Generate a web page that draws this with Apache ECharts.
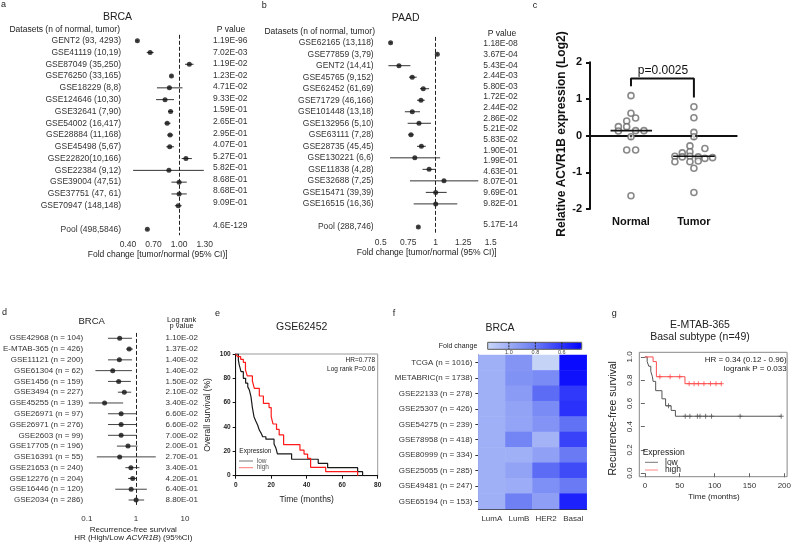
<!DOCTYPE html>
<html><head><meta charset="utf-8">
<script src="https://cdn.jsdelivr.net/npm/echarts@6/dist/echarts.min.js"></script>
<style>html,body{margin:0;padding:0;background:#fff}#c{width:794px;height:549px}</style>
</head><body><div id="c"></div>
<script>
// ---------- Panel a (BRCA, tumor/normal fold change) ----------
const namesA = ['GENT2 (93, 4293)','GSE41119 (10,19)','GSE87049 (35,250)','GSE76250 (33,165)','GSE18229 (8,8)','GSE124646 (10,30)','GSE32641 (7,90)','GSE54002 (16,417)','GSE28884 (11,168)','GSE45498 (5,67)','GSE22820(10,166)','GSE22384 (9,12)','GSE39004 (47,51)','GSE37751 (47, 61)','GSE70947 (148,148)','Pool (498,5846)'];
const fcA = [0.51,0.66,1.12,0.91,0.886,0.835,0.90,0.86,0.894,0.89,1.08,0.88,1.00,1.00,0.99,0.627];
const loA = [0.50,0.62,1.07,0.90,0.74,0.73,0.87,0.83,0.86,0.85,1.03,0.46,0.91,0.91,0.95,0.62];
const hiA = [0.52,0.70,1.17,0.92,1.04,0.94,0.93,0.90,0.93,0.94,1.15,1.29,1.09,1.09,1.03,0.635];
const pA = ['1.19E-96','7.02E-03','1.19E-02','1.23E-02','4.71E-02','9.33E-02','1.59E-01','2.65E-01','2.95E-01','4.07E-01','5.27E-01','5.82E-01','8.68E-01','8.68E-01','9.09E-01','4.6E-129'];
const ticksA = [0.4,0.7,1.0,1.3];

// ---------- Panel b (PAAD) ----------
const namesB = ['GSE62165 (13,118)','GSE77859 (3,79)','GENT2 (14,41)','GSE45765 (9,152)','GSE62452 (61,69)','GSE71729 (46,166)','GSE101448 (13,18)','GSE132956 (5,10)','GSE63111 (7,28)','GSE28735 (45,45)','GSE130221 (6,6)','GSE11838 (4,28)','GSE32688 (7,25)','GSE15471 (39,39)','GSE16515 (16,36)','Pool (288,746)'];
const fcB = [0.59,1.015,0.666,0.787,0.887,0.866,0.787,0.848,0.775,0.87,0.81,0.94,1.075,1.0,1.0,0.842];
const loB = [0.58,1.01,0.57,0.757,0.857,0.83,0.72,0.745,0.75,0.83,0.585,0.88,0.766,0.91,0.80,0.835];
const hiB = [0.60,1.02,0.77,0.827,0.94,0.90,0.857,0.957,0.80,0.91,1.04,0.997,1.387,1.10,1.196,0.85];
const pB = ['1.18E-08','3.67E-04','5.43E-04','2.44E-03','5.80E-03','1.72E-02','2.44E-02','2.86E-02','5.21E-02','5.83E-02','1.90E-01','1.99E-01','4.63E-01','8.07E-01','9.69E-01','9.82E-01','5.17E-14'];

// ---------- Panel c (ACVR1B expression) ----------
const normalX = [1.0,1.0,1.074,0.932,0.8,0.932,0.8,1.074,1.206,1.0,0.932,1.074,1.0];
const normalY = [1.09,0.61,0.48,0.40,0.245,0.245,0.127,0.136,0.136,-0.03,-0.39,-0.39,-1.64];
const tumorX = [2.0,2.0,2.0,2.0,1.937,2.175,1.937,1.815,1.698,1.815,1.937,2.069,2.175,2.297,1.698,1.937,2.069,2.0,2.0];
const tumorY = [0.79,0.49,0.09,-0.03,-0.28,-0.35,-0.44,-0.47,-0.56,-0.58,-0.56,-0.58,-0.62,-0.60,-0.71,-0.71,-0.69,-0.89,-1.55];
const groupsC = ['Normal','Tumor'];
const bracketY = [1.35,1.56,1.04];

// ---------- Panel d (BRCA recurrence-free survival HR) ----------
const namesD = ['GSE42968 (n = 104)','E-MTAB-365 (n = 426)','GSE11121 (n = 200)','GSE61304 (n = 62)','GSE1456 (n = 159)','GSE3494 (n = 227)','GSE45255 (n = 139)','GSE26971 (n = 97)','GSE26971 (n = 276)','GSE2603 (n = 99)','GSE17705 (n = 196)','GSE16391 (n = 55)','GSE21653 (n = 240)','GSE12276 (n = 204)','GSE16446 (n = 120)','GSE2034 (n = 286)'];
const hrD = [0.467,0.73,0.46,0.337,0.446,0.58,0.23,0.50,0.50,0.50,0.69,0.467,0.79,0.86,0.80,1.01];
const loD = [0.27,0.63,0.27,0.15,0.27,0.43,0.11,0.27,0.27,0.27,0.41,0.16,0.61,0.69,0.38,0.71];
const hiD = [0.83,0.87,0.83,0.83,0.79,0.80,0.55,1.01,1.01,1.01,1.08,2.54,1.18,1.05,1.67,1.47];
const pD = ['1.10E-02','1.37E-02','1.40E-02','1.40E-02','1.50E-02','2.10E-02','3.40E-02','6.60E-02','6.60E-02','7.00E-02','2.00E-01','2.70E-01','3.40E-01','4.20E-01','6.40E-01','8.80E-01'];
const minorD = [0.2,0.3,0.4,0.5,0.6,0.7,0.8,0.9,2,3,4,5,6,7,8,9];

// ---------- Panel e (GSE62452 KM) ----------
const timeLowE = [0,1.5,2,3,4.3,5.6,6.8,7.7,8.6,9.4,10.3,11.3,12.4,13.3,14.3,15.2,17,21.6,22.7,23.5,31.5,46.5,51.8,68.7,71.5];
const survLowE = [100,95,91,85.5,80,76,73,70.4,65,56,48.5,45,41.5,37.5,35,32,30,26,22.5,18,13.5,10.2,6.6,3.3,0];
const timeHighE = [0,1.1,2.8,4.3,5.5,6.5,9.4,10.5,13.3,15.6,18.8,20,21,23,24.5,27,36.2,38.5,40.5,42.2,50.7,68.7];
const survHighE = [100,97.8,95.6,93.2,87,82,77.8,71.8,65.5,59.5,56,48.5,42.5,38,33.5,25.5,21,17.8,14.3,6.9,3.3,0];

// ---------- Panel f (BRCA subtype heatmap) ----------
const namesF = ['TCGA (n = 1016)','METABRIC(n = 1738)','GSE22133 (n = 278)','GSE25307 (n = 426)','GSE54275 (n = 239)','GSE78958 (n = 418)','GSE80999 (n = 334)','GSE25055 (n = 285)','GSE49481 (n = 247)','GSE65194 (n = 153)'];
const subtypesF = ['LumA','LumB','HER2','Basal'];
const lumA = [1.01,1.01,1.01,1.01,1.01,1.01,1.01,1.01,1.01,1.01];
const lumB = [0.90,0.89,0.926,0.956,0.96,0.839,1.01,0.955,0.994,0.82];
const her2 = [1.15,0.865,0.76,0.865,0.896,1.02,0.948,0.76,0.88,0.94];
const basal = [0.48,0.50,0.61,0.59,0.775,0.64,0.80,0.664,0.80,0.547];
const cbTicks = [1.0,0.8,0.6];

// ---------- Panel g (E-MTAB-365 basal KM) ----------
const timeLowG = [0,3.3,5.6,8.5,10.8,11.8,15.5,24.5,29.7,37.7,43.8,195.5];
const survLowG = [1,0.96,0.92,0.875,0.83,0.79,0.71,0.64,0.58,0.54,0.49,0.49];
const timeHighG = [0,11.8,16.5,57.5,110];
const survHighG = [1,0.96,0.83,0.77,0.77];
const censorLowG = [33.9,57.9,64.5,75.3,79.1,87.1,95.6,136.6,195.5];
const censorHighG = [21.5,36.2,50,63.5,70.6,76.7,84.7,94.1,102,109.6];

// ================= build =================
const F = '"Liberation Sans", Arial, Helvetica, sans-serif';
const chart = echarts.init(document.getElementById('c'), null, {renderer:'canvas'});

function withGap(arr){ return arr.slice(0,-1).concat([''], arr.slice(-1)); }
function gapIdx(i,n){ return i < n-1 ? i : i+1; }
function zip(a,b){ return a.map((v,i)=>[v,b[i]]); }
function survAt(times, surv, t){ let s = surv[0]; for (let i=0;i<times.length;i++){ if (times[i] <= t) s = surv[i]; } return s; }
function median(a){ const s=a.slice().sort((x,y)=>x-y); const n=s.length; return n%2? s[(n-1)/2] : (s[n/2-1]+s[n/2])/2; }

function T(x,y,text,o){ o=o||{}; return {type:'text', x:x, y:y, rotation:o.rot||0, silent:true, z:100,
  style:{text:text, fontSize:o.fs||8.5, fontFamily:F, fontWeight:o.fw||'normal', fontStyle:o.fst||'normal',
  fill:o.c||'#222', align:o.al||'left', verticalAlign:o.va||'middle', rich:o.rich}}; }
function L(x1,y1,x2,y2,c,w,dash){ return {type:'line', silent:true, z:100, shape:{x1:x1,y1:y1,x2:x2,y2:y2}, style:{stroke:c, lineWidth:w||1, lineDash:dash||null}}; }

function ciSeries(xi, yi, lo, hi, gapped, color){
  const n = lo.length;
  return {type:'custom', xAxisIndex:xi, yAxisIndex:yi, silent:true,
    data: lo.map((v,i)=>[v, hi[i], gapped? gapIdx(i,n) : i]),
    encode:{x:[0,1], y:2},
    renderItem:function(params, api){
      const a = api.coord([api.value(0), api.value(2)]);
      const b = api.coord([api.value(1), api.value(2)]);
      return {type:'line', shape:{x1:a[0],y1:a[1],x2:b[0],y2:b[1]}, style:{stroke:color, lineWidth:1}};
    }};
}
function ptSeries(xi, yi, est, gapped, size){
  const n = est.length;
  return {type:'scatter', xAxisIndex:xi, yAxisIndex:yi, silent:true, symbolSize:size||5,
    itemStyle:{color:'#111'}, data: est.map((v,i)=>[v, gapped? gapIdx(i,n) : i]),
    markLine:{silent:true, symbol:'none', label:{show:false}, lineStyle:{type:'dashed', color:'#222', width:1}, data:[{xAxis:1}]}};
}

const lblBase = {fontFamily:F, color:'#333'};
const noAxis = {axisLine:{show:false}, axisTick:{show:false}, splitLine:{show:false}};

const grids = [
  {left:128, top:34.8, width:92, height:200.4},      // 0 a
  {left:213, top:35.24, width:40, height:195.9},     // 1 a p
  {left:380.7, top:36.9, width:110, height:195.8},   // 2 b
  {left:483.3, top:38.7, width:36, height:191.2},    // 3 b p
  {left:590, top:62.3, width:146.7, height:146.7},   // 4 c
  {left:86, top:332.9, width:99, height:172.5},      // 5 d
  {left:235.7, top:354, width:142, height:121.7, show:true, borderColor:'#999', borderWidth:1, backgroundColor:'rgba(0,0,0,0)'}, // 6 e
  {left:478.3, top:355, width:108.4, height:154},    // 7 f
  {left:639.3, top:352.3, width:150.7, height:124.4, show:true, borderColor:'#888', borderWidth:1, backgroundColor:'rgba(0,0,0,0)'} // 8 g
];

const xAxes = [
  {gridIndex:0, type:'value', min:0.4, max:1.48, splitLine:{show:false},
    axisLine:{lineStyle:{color:'#222'}}, axisTick:{customValues:ticksA, length:3, lineStyle:{color:'#222'}},
    axisLabel:Object.assign({customValues:ticksA, fontSize:8.5, margin:5, formatter:v=>v.toFixed(2)}, lblBase)},
  {gridIndex:1, type:'value', min:0, max:1, show:false},
  {gridIndex:2, type:'value', min:0.5, max:1.5, interval:0.25, splitLine:{show:false},
    axisLine:{lineStyle:{color:'#222'}}, axisTick:{length:3, lineStyle:{color:'#222'}},
    axisLabel:Object.assign({fontSize:8.5, margin:5, formatter:v=>String(v)}, lblBase)},
  {gridIndex:3, type:'value', min:0, max:1, show:false},
  {gridIndex:4, type:'value', min:0.349, max:2.68, splitLine:{show:false},
    axisLine:{lineStyle:{color:'#111', width:2}}, axisTick:{customValues:[1,2], length:4, lineStyle:{color:'#111', width:2}},
    axisLabel:{customValues:[1,2], formatter:v=>groupsC[Math.round(v)-1], fontSize:11, fontWeight:'bold', color:'#111', fontFamily:F, margin:7}},
  {gridIndex:5, type:'log', logBase:10, min:0.1, max:10, offset:3, position:'bottom', splitLine:{show:false},
    axisLine:{lineStyle:{color:'#333'}}, axisTick:{length:4, lineStyle:{color:'#333'}},
    axisLabel:Object.assign({fontSize:8, margin:6, formatter:v=>(v<1? '0.1' : String(Math.round(v)))}, lblBase)},
  {gridIndex:5, type:'log', logBase:10, min:0.1, max:10, offset:3, position:'bottom', splitLine:{show:false},
    axisLine:{show:false}, axisTick:{customValues:minorD, length:2, lineStyle:{color:'#333'}}, axisLabel:{show:false}},
  {gridIndex:6, type:'value', min:0, max:80, interval:20, splitLine:{show:false},
    axisLine:{lineStyle:{color:'#111'}}, axisTick:{length:3, lineStyle:{color:'#111'}},
    axisLabel:{fontSize:6.5, fontWeight:'bold', color:'#222', fontFamily:F, margin:6}},
  {gridIndex:7, type:'category', data:subtypesF, splitLine:{show:false},
    axisLine:{lineStyle:{color:'#333'}}, axisTick:{alignWithLabel:true, interval:0, length:3, lineStyle:{color:'#333'}},
    axisLabel:Object.assign({fontSize:8, margin:6, interval:0}, lblBase)},
  {gridIndex:8, type:'value', min:-8, max:204, splitLine:{show:false},
    axisLine:{show:false}, axisTick:{customValues:[0,50,100,150,200], length:4, lineStyle:{color:'#666'}},
    axisLabel:Object.assign({customValues:[0,50,100,150,200], fontSize:8, margin:5}, lblBase)}
];

const yAxes = [
  Object.assign({gridIndex:0, type:'category', inverse:true, data:withGap(namesA),
    axisLabel:Object.assign({fontSize:8.5, margin:7, interval:0}, lblBase)}, noAxis),
  Object.assign({gridIndex:1, type:'category', inverse:true, data:withGap(pA),
    axisLabel:Object.assign({fontSize:8.5, margin:0, align:'left', interval:0}, lblBase)}, noAxis),
  Object.assign({gridIndex:2, type:'category', inverse:true, data:withGap(namesB),
    axisLabel:Object.assign({fontSize:8.5, margin:7, interval:0}, lblBase)}, noAxis),
  Object.assign({gridIndex:3, type:'category', inverse:true, data:pB.slice(0,-1).concat([''], pB.slice(-1)),
    axisLabel:Object.assign({fontSize:8.5, margin:0, align:'left', interval:0}, lblBase)}, noAxis),
  {gridIndex:4, type:'value', min:-2, max:2, interval:1, splitLine:{show:false},
    axisLine:{show:true, lineStyle:{color:'#111', width:2}}, axisTick:{show:true, length:4, lineStyle:{color:'#111', width:2}},
    axisLabel:{fontSize:11, fontWeight:'bold', color:'#111', fontFamily:F, margin:8}},
  Object.assign({gridIndex:5, type:'category', inverse:true, data:namesD,
    axisLabel:Object.assign({fontSize:8, margin:3.7, interval:0}, lblBase)}, noAxis),
  Object.assign({gridIndex:5, type:'category', inverse:true, position:'right', offset:-3.3, data:pD,
    axisLabel:Object.assign({fontSize:8, margin:0, align:'center', interval:0}, lblBase)}, noAxis),
  {gridIndex:6, type:'value', min:0, max:100, interval:20, splitLine:{show:false},
    axisLine:{show:true, lineStyle:{color:'#111'}}, axisTick:{show:true, length:3, lineStyle:{color:'#111'}},
    axisLabel:{fontSize:6.5, fontWeight:'bold', color:'#222', fontFamily:F, margin:5}},
  {gridIndex:7, type:'category', inverse:true, data:namesF, splitLine:{show:false},
    axisLine:{show:true, lineStyle:{color:'#333'}}, axisTick:{show:true, length:3, alignWithLabel:true, interval:0, lineStyle:{color:'#333'}},
    axisLabel:Object.assign({fontSize:8, margin:6, interval:0}, lblBase)},
  {gridIndex:8, type:'value', min:-0.03, max:1.04, splitLine:{show:false},
    axisLine:{show:false}, axisTick:{show:true, customValues:[0,0.2,0.4,0.6,0.8,1.0], length:4, lineStyle:{color:'#666'}},
    axisLabel:Object.assign({customValues:[0,0.2,0.4,0.6,0.8,1.0], rotate:90, fontSize:8, margin:6, formatter:v=>v.toFixed(1)}, lblBase)}
];

// heatmap data
const heatCols = [lumA, lumB, her2, basal];
const heatData = [];
heatCols.forEach((col,ci)=>col.forEach((v,ri)=>heatData.push([ci, ri, v])));

const medN = median(normalY), medT = median(tumorY);

const series = [
  // a
  ciSeries(0,0,loA,hiA,true,'#333'),
  ptSeries(0,0,fcA,true,5),
  // b
  ciSeries(2,2,loB,hiB,true,'#333'),
  ptSeries(2,2,fcB,true,5),
  // c
  {type:'scatter', xAxisIndex:4, yAxisIndex:4, silent:true, symbolSize:6, z:3,
    itemStyle:{color:'#fff', borderColor:'#6c6c6c', borderWidth:1.6}, data:zip(normalX, normalY),
    markLine:{silent:true, symbol:'none', label:{show:false}, lineStyle:{type:[2,3], color:'#111', width:1.6}, data:[{yAxis:0}]}},
  {type:'scatter', xAxisIndex:4, yAxisIndex:4, silent:true, symbolSize:6, z:3,
    itemStyle:{color:'#fff', borderColor:'#6c6c6c', borderWidth:1.6}, data:zip(tumorX, tumorY)},
  {type:'line', xAxisIndex:4, yAxisIndex:4, silent:true, symbol:'none', z:4, lineStyle:{color:'#111', width:1.6}, data:[[0.675,medN],[1.335,medN]]},
  {type:'line', xAxisIndex:4, yAxisIndex:4, silent:true, symbol:'none', z:4, lineStyle:{color:'#111', width:1.6}, data:[[1.67,medT],[2.33,medT]]},
  {type:'line', xAxisIndex:4, yAxisIndex:4, silent:true, symbol:'none', z:4, lineStyle:{color:'#111', width:2},
    data:[[1,bracketY[0]],[1,bracketY[1]],[2,bracketY[1]],[2,bracketY[2]]]},
  // d
  ciSeries(5,5,loD,hiD,false,'#444'),
  ptSeries(5,5,hrD,false,5),
  // e
  {type:'line', xAxisIndex:7, yAxisIndex:7, silent:true, symbol:'none', step:'end', lineStyle:{color:'#1a1a1a', width:1.2}, data:zip(timeLowE, survLowE)},
  {type:'line', xAxisIndex:7, yAxisIndex:7, silent:true, symbol:'none', step:'end', lineStyle:{color:'#ff1a1a', width:1.2}, data:zip(timeHighE, survHighE)},
  // f
  {type:'heatmap', xAxisIndex:8, yAxisIndex:8, silent:true, data:heatData},
  // g
  {type:'line', xAxisIndex:9, yAxisIndex:9, silent:true, symbol:'none', step:'end', lineStyle:{color:'#555', width:1}, data:zip(timeLowG, survLowG)},
  {type:'line', xAxisIndex:9, yAxisIndex:9, silent:true, symbol:'none', step:'end', lineStyle:{color:'#ff4d4d', width:1}, data:zip(timeHighG, survHighG)},
  {type:'scatter', xAxisIndex:9, yAxisIndex:9, silent:true, symbol:'path://M0,5L10,5M5,0L5,10', symbolSize:5,
    itemStyle:{color:'rgba(0,0,0,0)', borderColor:'#555', borderWidth:1}, data:censorLowG.map(t=>[t, survAt(timeLowG, survLowG, t)])},
  {type:'scatter', xAxisIndex:9, yAxisIndex:9, silent:true, symbol:'path://M0,5L10,5M5,0L5,10', symbolSize:5,
    itemStyle:{color:'rgba(0,0,0,0)', borderColor:'#ff4d4d', borderWidth:1}, data:censorHighG.map(t=>[t, survAt(timeHighG, survHighG, t)])}
];
const heatSeriesIndex = series.findIndex(s=>s.type==='heatmap');

// colour bar geometry (panel f)
const cb = {left:487.7, top:342.3, len:94, w:7, min:0.45, max:1.16};
const cbX = v => cb.left + (cb.max - v)/(cb.max - cb.min)*cb.len;

const g = [
  // panel letters
  T(1,5,'a',{fs:9}), T(261.7,5.7,'b',{fs:9}), T(532.7,6,'c',{fs:9}),
  T(2,312.7,'d',{fs:9}), T(215,313.3,'e',{fs:9}), T(392.7,313.3,'f',{fs:9}), T(611.7,313.3,'g',{fs:9}),
  // a
  T(117.5,17.3,'BRCA',{fs:10.5, al:'center'}),
  T(120,30,'Datasets (n of normal, tumor)',{fs:8.5, al:'right'}),
  T(231,30,'P value',{fs:8.5, al:'center'}),
  T(157.7,255,'Fold change [tumor/normal (95% CI)]',{fs:8.5, al:'center'}),
  // b
  T(405.7,18.3,'PAAD',{fs:10.5, al:'center'}),
  T(375,31.7,'Datasets (n of normal, tumor)',{fs:8.5, al:'right'}),
  T(502,34,'P value',{fs:8.5, al:'center'}),
  T(426.7,252.7,'Fold change [tumor/normal (95% CI)]',{fs:8.5, al:'center'}),
  // c
  T(561.7,134,'Relative ACVR1B expression (Log2)',{fs:12, fw:'bold', al:'center', rot:Math.PI/2, c:'#111'}),
  T(663,71,'p=0.0025',{fs:12, al:'center', c:'#111'}),
  // d
  T(91.7,321.7,'BRCA',{fs:9.5, al:'center'}),
  T(181.7,320,'Log rank',{fs:7.5, al:'center'}),
  T(181.7,326,'p value',{fs:7.5, al:'center'}),
  T(133.3,529.3,'Recurrence-free survival',{fs:8, al:'center'}),
  {type:'text', x:133.3, y:537.3, silent:true, z:100, style:{text:'HR (High/Low {i|ACVR1B}) (95%CI)', fontSize:8, fontFamily:F, fill:'#222', align:'center', verticalAlign:'middle',
    rich:{i:{fontStyle:'italic', fontSize:8, fontFamily:F, fill:'#222'}}}},
  // e
  T(301.7,327.3,'GSE62452',{fs:10.5, al:'center'}),
  T(207.3,415,'Overall survival (%)',{fs:8.5, al:'center', rot:Math.PI/2}),
  T(306.7,499.3,'Time (months)',{fs:8.5, al:'center'}),
  T(375,360.7,'HR=0.778',{fs:6.5, al:'right'}),
  T(375,369.3,'Log rank P=0.06',{fs:6.5, al:'right'}),
  T(239.3,451.7,'Expression',{fs:6.5}),
  L(239,461,253,461,'#777',1), T(256.7,461,'low',{fs:6.5, c:'#555'}),
  L(239,467.7,253,467.7,'#f77',1), T(256.7,467.7,'high',{fs:6.5, c:'#555'}),
  // f
  T(500,328.3,'BRCA',{fs:10.5, al:'center'}),
  T(477.3,345.7,'Fold change',{fs:7, al:'right'}),
  {type:'rect', silent:true, z:100, shape:{x:cb.left, y:cb.top, width:cb.len, height:cb.w}, style:{fill:null, stroke:'#555', lineWidth:1}},
  // g
  T(700,325,'E-MTAB-365',{fs:10.5, al:'center'}),
  T(700,337.3,'Basal subtype (n=49)',{fs:10.5, al:'center'}),
  T(612.7,418.3,'Recurrence-free survival',{fs:10.5, al:'center', rot:Math.PI/2}),
  T(714,496.7,'Time (months)',{fs:8, al:'center'}),
  T(786.7,360,'HR = 0.34 (0.12 - 0.96)',{fs:8, al:'right'}),
  T(786.7,368.3,'logrank P = 0.033',{fs:8, al:'right'}),
  T(642.7,452.3,'Expression',{fs:8.5}),
  L(645,462.3,658,462.3,'#777',1), T(665,462.3,'low',{fs:8.5}),
  L(645,470,658,470,'#f88',1), T(665,470,'high',{fs:8.5})
];
cbTicks.forEach(v=>{
  g.push(L(cbX(v), cb.top, cbX(v), cb.top+cb.w, '#222', 1, [2,1]));
  g.push(T(cbX(v), cb.top+cb.w+3.2, v.toFixed(1), {fs:5.5, al:'center', c:'#444'}));
});

chart.setOption({
  backgroundColor:'#fff',
  animation:false,
  textStyle:{fontFamily:F},
  grid:grids, xAxis:xAxes, yAxis:yAxes, series:series,
  visualMap:[{type:'continuous', seriesIndex:heatSeriesIndex, min:cb.min, max:cb.max, orient:'horizontal', inverse:true,
    left:cb.left, top:cb.top, itemWidth:cb.w, itemHeight:cb.len, padding:0, calculable:false, realtime:false,
    text:null, inRange:{color:['#0000ff','#6a7cf4','#c8d6f7']}, textStyle:{fontSize:1, color:'rgba(0,0,0,0)'}}],
  graphic:g
});
</script></body></html>
